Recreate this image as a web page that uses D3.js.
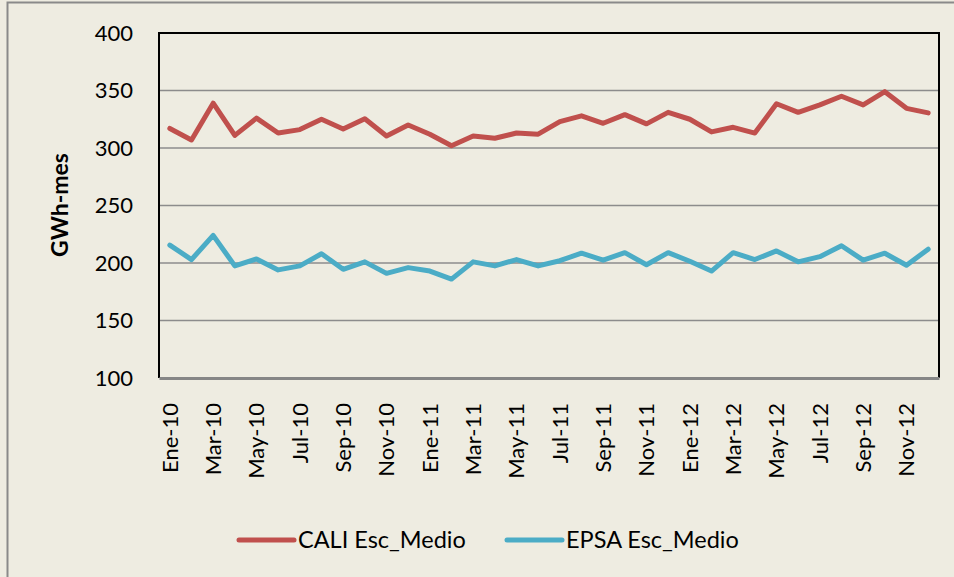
<!DOCTYPE html>
<html>
<head>
<meta charset="utf-8">
<script src="https://cdn.jsdelivr.net/npm/d3@7"></script>
<style>
  html, body { margin: 0; padding: 0; background: #EEECE1; }
  svg { display: block; }
  text { font-family: Lato, "Open Sans", sans-serif; fill: #000; }
</style>
</head>
<body>
<svg id="chart" width="954" height="577"></svg>
<script>
const months = ["Ene","Feb","Mar","Abr","May","Jun","Jul","Ago","Sep","Oct","Nov","Dic"];
const years = ["10","11","12"];
const categories = [];
years.forEach(y => months.forEach(m => categories.push(m + "-" + y)));

const caliValues = [317, 307, 339, 311, 326, 313, 316, 325, 316.5, 325.5, 310.5, 320,
                    312, 302, 310.5, 308.5, 313, 312, 323, 328, 321.5, 329, 321, 331,
                    325, 314, 318, 313, 338.5, 331, 337.5, 345, 337.5, 349, 334.5, 330.5];
const epsaValues = [215.5, 203, 224, 197.5, 203.5, 194, 197.5, 208, 194.5, 201, 191, 196,
                    193, 186, 201, 197.5, 203, 197.5, 202, 208.5, 202.5, 209, 198.5, 209,
                    201.5, 193, 209, 203, 210.5, 201, 205.5, 215, 202.5, 208.5, 198, 212];
const yTicks = [100, 150, 200, 250, 300, 350, 400];
const seriesNames = ["CALI Esc_Medio", "EPSA Esc_Medio"];
const seriesColors = ["#C0504D", "#4BACC6"];

const svg = d3.select("#chart");
const W = 954, H = 577;
const plot = { left: 159, right: 939, top: 33, bottom: 378 };

// outer frame
svg.append("rect").attr("x", 7.5).attr("y", 2.5).attr("width", W).attr("height", H)
  .attr("fill", "#EEECE1").attr("stroke", "#8a8a8a").attr("stroke-width", 2);

const x = d3.scaleBand().domain(categories).range([plot.left, plot.right]);
const y = d3.scaleLinear().domain([100, 400]).range([plot.bottom, plot.top]);
const cx = d => x(d) + x.bandwidth() / 2;

// gridlines
svg.append("g").selectAll("line").data(yTicks.filter(t => t > 100 && t < 400)).join("line")
  .attr("x1", plot.left).attr("x2", plot.right)
  .attr("y1", d => y(d)).attr("y2", d => y(d))
  .attr("stroke", "#8c8c8c").attr("stroke-width", 1.5);

// plot border (top, left, right)
svg.append("path")
  .attr("d", `M${plot.left},${plot.bottom} V${plot.top} H${plot.right} V${plot.bottom}`)
  .attr("fill", "none").attr("stroke", "#000").attr("stroke-width", 2);

// y axis labels
const yAxis = d3.axisLeft(y).tickValues(yTicks).tickSize(0).tickPadding(26);
const gy = svg.append("g").attr("transform", `translate(${plot.left},0)`).call(yAxis);
gy.select(".domain").remove();
gy.selectAll("text").style("font-family", "Lato, sans-serif").attr("font-size", 22).attr("fill", "#000");

// x axis
const xAxis = d3.axisBottom(x).tickValues(categories.filter((d, i) => i % 2 === 0)).tickSize(0);
const gx = svg.append("g").attr("transform", `translate(0,${plot.bottom})`).call(xAxis);
gx.select(".domain").attr("stroke", "#868686").attr("stroke-width", 3);
gx.selectAll("text")
  .style("font-family", "Lato, sans-serif")
  .attr("font-size", 22)
  .attr("fill", "#000")
  .attr("text-anchor", "end")
  .attr("dy", "0.35em")
  .attr("transform", "translate(0,25) rotate(-90)")
  .attr("x", 0).attr("y", 0);

// axis title
svg.append("text")
  .attr("transform", `translate(68,205) rotate(-90)`)
  .attr("text-anchor", "middle")
  .attr("font-size", 23).attr("font-weight", "bold")
  .text("GWh-mes");

// lines
const line = d3.line().x((d, i) => cx(categories[i])).y(d => y(d));
[caliValues, epsaValues].forEach((vals, k) => {
  svg.append("path").datum(vals)
    .attr("fill", "none").attr("stroke", seriesColors[k])
    .attr("stroke-width", 5).attr("stroke-linejoin", "round").attr("stroke-linecap", "round")
    .attr("d", line);
});

// legend
const legendX = [239, 507];
seriesNames.forEach((name, k) => {
  const g = svg.append("g").attr("transform", `translate(${legendX[k]},540)`);
  g.append("line").attr("x1", 0).attr("x2", 55).attr("y1", 0).attr("y2", 0)
    .attr("stroke", seriesColors[k]).attr("stroke-width", 5).attr("stroke-linecap", "round");
  g.append("text").attr("x", 59).attr("y", 0).attr("dy", "0.35em")
    .attr("font-size", 23.5).text(name);
});
</script>
</body>
</html>
